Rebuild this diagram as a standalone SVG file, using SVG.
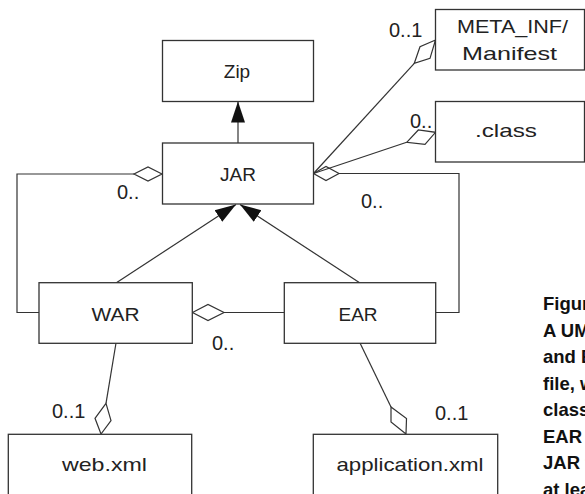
<svg xmlns="http://www.w3.org/2000/svg" width="585" height="494" viewBox="0 0 585 494">
<defs>
<style>
.box{fill:#fff;stroke:#333;stroke-width:1.3}
.lbl{font-family:"Liberation Sans",Arial,sans-serif;font-size:19px;fill:#222;text-anchor:middle}
.mul{font-family:"Liberation Sans",Arial,sans-serif;font-size:20px;fill:#222}
.ln{fill:none;stroke:#333;stroke-width:1.2}
.dia{fill:#fff;stroke:#333;stroke-width:1.2}
.cap{font-family:"Liberation Sans",Arial,sans-serif;font-size:18.5px;font-weight:bold;fill:#111}
</style>
<marker id="tri" markerUnits="userSpaceOnUse" markerWidth="22" markerHeight="16" viewBox="0 -8 22 16" refX="21" refY="0" orient="auto">
<path d="M0,-7 L21,0 L0,7 z" fill="#111"/>
</marker>
</defs>
<rect width="585" height="494" fill="#fff"/>
<g id="connectors">
<line class="ln" x1="238" y1="143" x2="238" y2="101.5" marker-end="url(#tri)"/>
<line class="ln" x1="116" y1="283" x2="236" y2="204.5" marker-end="url(#tri)"/>
<line class="ln" x1="360" y1="283" x2="240" y2="204.5" marker-end="url(#tri)"/>
<polyline class="ln" points="134,174 17,174 17,312.5 39,312.5"/>
<polygon class="dia" points="162,174 148,167 134,174 148,181"/>
<polyline class="ln" points="339,173.5 459,173.5 459,312.5 436,312.5"/>
<polygon class="dia" points="313.5,173.5 326,166.5 339,173.5 326,180.5"/>
<line class="ln" x1="224" y1="312.5" x2="284" y2="312.5"/>
<polygon class="dia" points="192.5,312.5 208,304.5 224,312.5 208,320.5"/>
<line class="ln" x1="313.5" y1="173.5" x2="414.3" y2="63.3"/>
<polygon class="dia" points="414.3,63.3 420,46.7 435.5,40 430,58.3"/>
<line class="ln" x1="313.5" y1="173.5" x2="406.7" y2="142.3"/>
<polygon class="dia" points="406.7,142.3 418.3,130 435.5,132.3 425,144.3"/>
<line class="ln" x1="116" y1="343" x2="106" y2="403.3"/>
<polygon class="dia" points="106,403.3 111,420.7 101,434 95,418.3"/>
<line class="ln" x1="360" y1="343" x2="391" y2="407"/>
<polygon class="dia" points="391,407 391,422 406,434 406.5,418.5"/>
<text class="mul" x="117" y="199">0..</text>
<text class="mul" x="361" y="208">0..</text>
<text class="mul" x="212" y="350">0..</text>
<text class="mul" x="389" y="37">0..1</text>
<text class="mul" x="410" y="128">0..</text>
<text class="mul" x="52" y="418">0..1</text>
<text class="mul" x="435" y="420">0..1</text>
</g>
<g id="zip"><rect class="box" x="162.5" y="40.5" width="151" height="61"/><text class="lbl" x="237" y="78">Zip</text></g>
<g id="jar"><rect class="box" x="162.5" y="143" width="151" height="61"/><text class="lbl" x="238" y="181">JAR</text></g>
<g id="manifest"><rect class="box" x="435.5" y="9.5" width="149" height="60.5"/><text class="lbl" x="512.5" y="33" textLength="111" lengthAdjust="spacingAndGlyphs">META_INF/</text><text class="lbl" x="509.5" y="60" textLength="95" lengthAdjust="spacingAndGlyphs">Manifest</text></g>
<g id="class"><rect class="box" x="435.5" y="101.5" width="149" height="60.5"/><text class="lbl" x="506" y="137" textLength="62" lengthAdjust="spacingAndGlyphs">.class</text></g>
<g id="war"><rect class="box" x="39" y="282.7" width="153.3" height="60.6"/><text class="lbl" x="115.5" y="321" textLength="48" lengthAdjust="spacingAndGlyphs">WAR</text></g>
<g id="ear"><rect class="box" x="284.3" y="282.7" width="151.4" height="60.6"/><text class="lbl" x="358" y="321">EAR</text></g>
<g id="webxml"><rect class="box" x="8.3" y="434.3" width="183.4" height="70"/><text class="lbl" x="104.5" y="471" textLength="85" lengthAdjust="spacingAndGlyphs">web.xml</text></g>
<g id="appxml"><rect class="box" x="313.3" y="434.3" width="184.4" height="70"/><text class="lbl" x="410" y="471" textLength="147" lengthAdjust="spacingAndGlyphs">application.xml</text></g>
<g id="caption">
<text class="cap" x="543" y="310">Figur</text>
<text class="cap" x="543" y="336.5">A UM</text>
<text class="cap" x="543" y="363">and E</text>
<text class="cap" x="543" y="389.5">file, w</text>
<text class="cap" x="543" y="416">class</text>
<text class="cap" x="543" y="442.5">EAR t</text>
<text class="cap" x="543" y="469">JAR f</text>
<text class="cap" x="543" y="495.5">at lea</text>
</g>
</svg>
